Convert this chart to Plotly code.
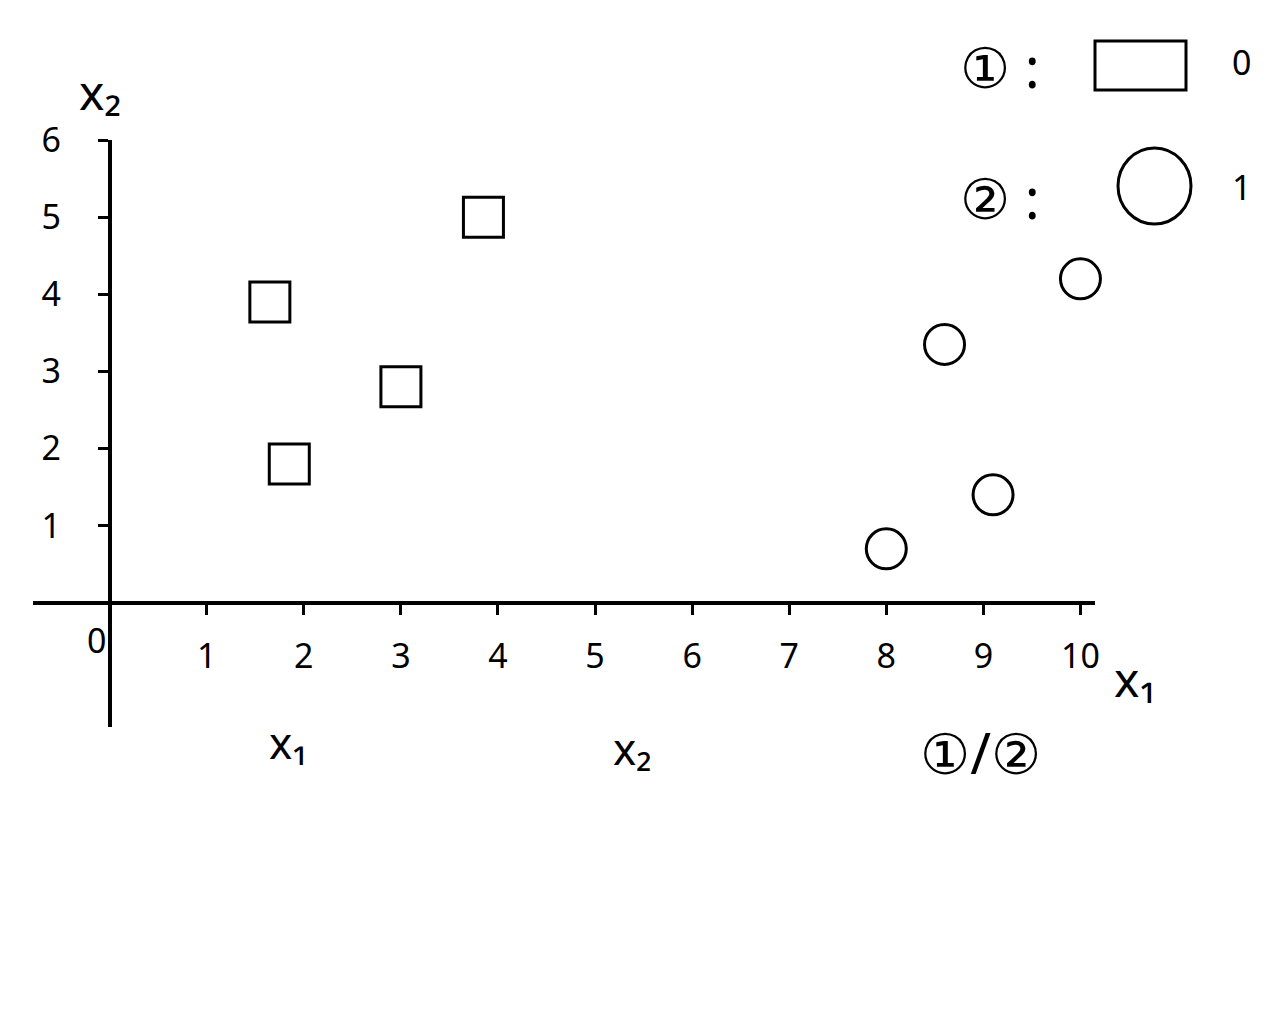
import plotly.graph_objects as go

# ---- data ----
sq_x = [1.65, 1.85, 3.0, 3.85]     # class 0 (squares)
sq_y = [3.9, 1.8, 2.8, 5.0]
ci_x = [8.0, 9.1, 8.6, 10.0]       # class 1 (circles)
ci_y = [0.7, 1.4, 3.35, 4.2]
x_ticks = list(range(1, 11))
y_ticks = list(range(1, 7))
x_range = [-0.79, 10.15]
y_range = [-1.61, 6.0]

FONT = "Noto Sans, DejaVu Sans, Noto Sans CJK SC"
W, H = 1280, 1024
ML, MR, MT, MB = 33, 185, 140, 297
PW, PH = W - ML - MR, H - MT - MB


def px(xp):
    return (xp - ML) / PW


def py(yp):
    return (H - MB - yp) / PH


fig = go.Figure()
fig.add_trace(go.Scatter(
    x=sq_x, y=sq_y, mode="markers", name="0", cliponaxis=False,
    marker=dict(symbol="square-open", size=40, color="black",
                line=dict(width=3, color="black")),
    showlegend=False))
fig.add_trace(go.Scatter(
    x=ci_x, y=ci_y, mode="markers", name="1", cliponaxis=False,
    marker=dict(symbol="circle-open", size=40, color="black",
                line=dict(width=3, color="black")),
    showlegend=False))

xpos = (0 - y_range[0]) / (y_range[1] - y_range[0])
ypos = (0 - x_range[0]) / (x_range[1] - x_range[0])

axis_common = dict(showgrid=False, zeroline=False, showline=True,
                   linecolor="black", linewidth=4, ticks="outside",
                   ticklen=10, tickwidth=3, tickcolor="black",
                   tickfont=dict(family=FONT, size=34, color="black"),
                   anchor="free")

fig.update_layout(
    width=W, height=H,
    margin=dict(l=ML, r=MR, t=MT, b=MB),
    paper_bgcolor="white", plot_bgcolor="white",
    xaxis=dict(range=x_range, tickvals=x_ticks, position=xpos,
               ticklabelstandoff=12, **axis_common),
    yaxis=dict(range=y_range, tickvals=y_ticks, position=ypos,
               ticklabelstandoff=30, **axis_common),
)

ann = []
ann.append(dict(x=0, y=0, xref="x", yref="y", text="0", showarrow=False,
                xanchor="right", yanchor="top", xshift=-2, yshift=-12,
                font=dict(family=FONT, size=34, color="black")))


def label(xp, yp, text, size=34):
    ann.append(dict(x=px(xp), y=py(yp), xref="paper", yref="paper",
                    text=text, showarrow=False, xanchor="center",
                    yanchor="middle",
                    font=dict(family=FONT, size=size, color="black")))


label(100, 92, "x₂", 48)
label(1135, 678, "x₁", 48)
label(288, 742, "x₁", 44)
label(632, 748, "x₂", 44)
label(980, 752, "①/②", 56)
label(1000, 66, "① :", 56)
label(1241, 62, "0", 34)
label(1000, 197, "② :", 56)
label(1241, 187, "1", 34)
fig.update_layout(annotations=ann)

shapes = [
    dict(type="rect", xref="paper", yref="paper",
         x0=px(1095), x1=px(1186), y0=py(90), y1=py(41),
         line=dict(color="black", width=3)),
    dict(type="circle", xref="paper", yref="paper",
         x0=px(1118), x1=px(1191), y0=py(224), y1=py(148),
         line=dict(color="black", width=3)),
]
fig.update_layout(shapes=shapes)

fig.write_html("out.html")
